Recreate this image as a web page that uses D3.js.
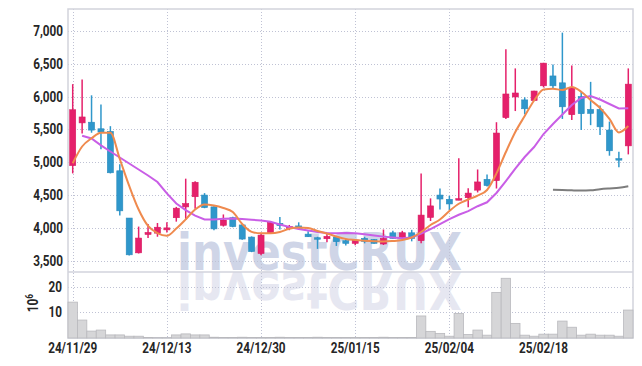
<!DOCTYPE html>
<html>
<head>
<meta charset="utf-8">
<script src="https://cdn.jsdelivr.net/npm/d3@7"></script>
<style>
  html, body { margin: 0; padding: 0; background: #fff; }
  svg { display: block; }
  .lbl { font-family: Roboto, "Liberation Sans", sans-serif; font-size: 14px; font-weight: bold; fill: #262626; }
</style>
</head>
<body>
<div id="chart"></div>
<script>
const dates = [
  "24/11/29", "24/12/02", "24/12/03", "24/12/04", "24/12/05", "24/12/06", "24/12/09", "24/12/10", "24/12/11", "24/12/12",
  "24/12/13", "24/12/16", "24/12/17", "24/12/18", "24/12/19", "24/12/20", "24/12/23", "24/12/24", "24/12/26", "24/12/27",
  "24/12/30", "25/01/02", "25/01/03", "25/01/06", "25/01/07", "25/01/08", "25/01/09", "25/01/10", "25/01/13", "25/01/14",
  "25/01/15", "25/01/16", "25/01/17", "25/01/20", "25/01/21", "25/01/22", "25/01/23", "25/01/24", "25/01/31", "25/02/03",
  "25/02/04", "25/02/05", "25/02/06", "25/02/07", "25/02/10", "25/02/11", "25/02/12", "25/02/13", "25/02/14", "25/02/17",
  "25/02/18", "25/02/19", "25/02/20", "25/02/21", "25/02/24", "25/02/25", "25/02/26", "25/02/27", "25/02/28", "25/03/04"
]
const opens = [
  4950, 5600, 5610, 5510, 5470, 4870, 4150, 3620, 3900, 3920,
  3970, 4155, 4320, 4475, 4500, 4320, 4040, 4155, 4045, 3860,
  3610, 3915, 4070, 3990, 4030, 3905, 3850, 3835, 3860, 3805,
  3765, 3840, 3825, 3755, 3925, 3855, 3925, 3805, 4160, 4500,
  4435, 4425, 4460, 4575, 4740, 4720, 5680, 5995, 5950, 5940,
  6165, 6315, 6210, 5725, 6000, 5805, 5805, 5490, 5055, 5250
]
const highs = [
  6190, 6260, 6020, 5880, 5550, 4970, 4150, 4020, 4060, 4075,
  4085, 4320, 4750, 4710, 4530, 4330, 4205, 4170, 4060, 3870,
  3925, 4090, 4165, 4045, 4085, 3950, 3865, 3915, 3870, 3830,
  3820, 3865, 3830, 3975, 3955, 3955, 3970, 4830, 4450, 4600,
  4490, 5060, 4605, 4890, 4815, 5610, 6720, 6430, 5990, 6090,
  6515, 6490, 6975, 6475, 6070, 6225, 5865, 5620, 5160, 6430
]
const lows = [
  4830, 5440, 5450, 5200, 4830, 4190, 3580, 3610, 3845, 3865,
  3930, 4095, 4120, 4290, 4300, 3965, 4020, 4010, 3820, 3630,
  3585, 3910, 3975, 3965, 3980, 3860, 3680, 3780, 3725, 3730,
  3735, 3765, 3760, 3740, 3835, 3840, 3795, 3765, 4105, 4280,
  4270, 4420, 4315, 4540, 4630, 4600, 5660, 5780, 5730, 5935,
  6140, 6115, 5660, 5645, 5490, 5565, 5415, 5100, 4925, 5120
]
const closes = [
  5800, 5690, 5490, 5460, 4840, 4260, 3590, 3845, 3930, 4010,
  4000, 4300, 4370, 4695, 4310, 3985, 4120, 4020, 3830, 3640,
  3890, 4085, 4035, 4020, 3990, 3865, 3835, 3870, 3790, 3765,
  3815, 3795, 3765, 3840, 3840, 3925, 3840, 4195, 4335, 4440,
  4365, 4445, 4530, 4700, 4645, 5445, 6040, 6055, 5815, 6085,
  6510, 6165, 5845, 6130, 5740, 5745, 5540, 5175, 5045, 6190
]
// volume in millions of shares
const volumes = [
  14.0, 7.0, 2.7, 3.1, 1.2, 1.2, 0.7, 0.7, 0.2, 0.15,
  0.15, 1.2, 1.6, 1.2, 1.2, 0.3, 0.2, 0.2, 0.3, 0.2,
  0.2, 0.2, 0.3, 0.2, 0.2, 0.2, 0.3, 0.2, 0.2, 0.2,
  0.2, 0.2, 0.2, 0.3, 0.2, 0.2, 0.2, 8.6, 2.6, 1.8,
  0.7, 9.6, 1.4, 3.1, 1.1, 17.8, 23.3, 5.7, 1.1, 0.7,
  1.5, 1.5, 6.6, 4.2, 1.1, 1.5, 1.1, 1.1, 0.7, 10.9
]
const maShort = [
  4985, 5240, 5365, 5450, 5450, 5050, 4640, 4280, 4030, 3920,
  3880, 3990, 4130, 4280, 4355, 4340, 4303, 4242, 4059, 3940,
  3917, 3917, 3937, 3987, 4005, 3998, 3952, 3914, 3868, 3830,
  3815, 3805, 3797, 3792, 3800, 3815, 3853, 3937, 4044, 4128,
  4257, 4368, 4432, 4493, 4577, 4830, 5156, 5461, 5705, 5941,
  6108, 6120, 6101, 6147, 6075, 5948, 5827, 5660, 5454, 5552
]
const maMid = [
  null, 5405, 5362, 5258, 5164, 5072, 4981, 4890, 4798, 4699,
  4527, 4371, 4272, 4188, 4128, 4128, 4138, 4143, 4135, 4125,
  4112, 4094, 4051, 4013, 3983, 3960, 3937, 3921, 3917, 3924,
  3917, 3902, 3883, 3867, 3853, 3842, 3853, 3914, 3983, 4059,
  4135, 4200, 4255, 4330, 4390, 4532, 4714, 4904, 5080, 5232,
  5430, 5582, 5727, 5872, 5979, 6009, 5956, 5888, 5819, 5822
]
const maLong = [
  null, null, null, null, null, null, null, null, null, null,
  null, null, null, null, null, null, null, null, null, null,
  null, null, null, null, null, null, null, null, null, null,
  null, null, null, null, null, null, null, null, null, null,
  null, null, null, null, null, null, null, null, null, null,
  null, 4580, 4578, 4572, 4568, 4572, 4590, 4602, 4612, 4635
]
const priceTicks = [3500, 4000, 4500, 5000, 5500, 6000, 6500, 7000]
const volumeTicks = [10, 20]
const dateTickIdx = [0, 10, 20, 30, 40, 50]

const W = 642, H = 366
const left = 68, right = 633
const priceTop = 9, priceBottom = 272, volBottom = 338
const squeeze = 0.84 // labels are set in a condensed face

const upColor = "#e5206b", downColor = "#2f97cb"

const svg = d3.select("#chart").append("svg")
  .attr("width", W)
  .attr("height", H)

const x = d3.scaleBand()
  .domain(d3.range(dates.length))
  .range([left, right])
  .paddingInner(0.36)
  .paddingOuter(0.18)
const cx = (i) => x(i) + x.bandwidth() / 2

const y = d3.scaleLinear().domain([3328, 7335]).range([priceBottom, priceTop])
const yv = d3.scaleLinear().domain([0, 25.75]).range([volBottom, priceBottom])

// watermark + reflection
const wm = svg.append("g")
  .style("font-family", "'DejaVu Sans', sans-serif")
  .style("font-weight", "bold")
  .style("font-size", "51px")
wm.append("text")
  .attr("x", 177).attr("y", 270)
  .attr("textLength", 285).attr("lengthAdjust", "spacingAndGlyphs")
  .attr("fill", "#cfd5e7")
  .text("investCRUX")
wm.append("text")
  .attr("transform", "translate(0,542) scale(1,-1)")
  .attr("x", 177).attr("y", 270)
  .attr("textLength", 285).attr("lengthAdjust", "spacingAndGlyphs")
  .attr("fill", "#e6e7f1")
  .text("investCRUX")

// grid
const grid = svg.append("g")
  .attr("stroke", "#bfc2d4")
  .attr("stroke-width", 1)
  .attr("stroke-dasharray", "1,2")
grid.selectAll(".hp")
  .data(priceTicks)
  .enter().append("line")
  .attr("x1", left).attr("x2", right)
  .attr("y1", (d) => Math.round(y(d)) + 0.5)
  .attr("y2", (d) => Math.round(y(d)) + 0.5)
grid.selectAll(".hv")
  .data(volumeTicks)
  .enter().append("line")
  .attr("x1", left).attr("x2", right)
  .attr("y1", (d) => Math.round(yv(d)) + 0.5)
  .attr("y2", (d) => Math.round(yv(d)) + 0.5)
grid.selectAll(".vx")
  .data(dateTickIdx)
  .enter().append("line")
  .attr("x1", (d) => Math.round(cx(d)) + 0.5)
  .attr("x2", (d) => Math.round(cx(d)) + 0.5)
  .attr("y1", priceTop).attr("y2", volBottom)

// frame
const frame = svg.append("g").attr("stroke", "#d2d3dc").attr("stroke-width", 1.5).attr("fill", "none")
frame.append("rect")
  .attr("x", left).attr("y", priceTop)
  .attr("width", right - left).attr("height", volBottom - priceTop)
frame.append("line")
  .attr("x1", left).attr("x2", right)
  .attr("y1", priceBottom).attr("y2", priceBottom)

// volume bars
const step = x.step()
svg.append("g")
  .selectAll("rect")
  .data(volumes)
  .enter().append("rect")
  .attr("x", (d, i) => cx(i) - step / 2)
  .attr("width", step)
  .attr("y", (d) => yv(d))
  .attr("height", (d) => volBottom - yv(d))
  .attr("fill", "#d6d6d8")
  .attr("stroke", "#b9b9bd")
  .attr("stroke-width", 0.8)

// candles
const candles = svg.append("g")
  .selectAll("g")
  .data(dates.map((d, i) => i))
  .enter().append("g")
candles.append("line")
  .attr("x1", (i) => cx(i)).attr("x2", (i) => cx(i))
  .attr("y1", (i) => y(highs[i])).attr("y2", (i) => y(lows[i]))
  .attr("stroke", (i) => closes[i] >= opens[i] ? upColor : downColor)
  .attr("stroke-width", 1.5)
candles.append("rect")
  .attr("x", (i) => x(i))
  .attr("width", x.bandwidth())
  .attr("y", (i) => y(Math.max(opens[i], closes[i])))
  .attr("height", (i) => Math.max(1.5, Math.abs(y(opens[i]) - y(closes[i]))))
  .attr("fill", (i) => closes[i] >= opens[i] ? upColor : downColor)
  .attr("stroke", (i) => closes[i] >= opens[i] ? "#d81b60" : "#2a8bbd")
  .attr("stroke-width", 0.6)

// moving averages
const maLine = (curve) => d3.line()
  .defined((d) => d != null)
  .x((d, i) => cx(i))
  .y((d) => y(d))
  .curve(curve)

svg.append("path")
  .datum(maLong)
  .attr("fill", "none")
  .attr("stroke", "#7d7d7d")
  .attr("stroke-width", 2)
  .attr("d", maLine(d3.curveMonotoneX))
svg.append("path")
  .datum(maMid)
  .attr("fill", "none")
  .attr("stroke", "#c95ee6")
  .attr("stroke-width", 2)
  .attr("d", maLine(d3.curveLinear))
svg.append("path")
  .datum(maShort)
  .attr("fill", "none")
  .attr("stroke", "#ef8a4e")
  .attr("stroke-width", 2)
  .attr("d", maLine(d3.curveMonotoneX))

// axes
svg.append("g")
  .attr("class", "yaxis")
  .attr("transform", `translate(${left},0)`)
  .call(d3.axisLeft(y).tickValues(priceTicks).tickFormat(d3.format(",")).tickSize(0).tickPadding(5))
svg.append("g")
  .attr("class", "yaxis")
  .attr("transform", `translate(${left},0)`)
  .call(d3.axisLeft(yv).tickValues(volumeTicks).tickSize(0).tickPadding(6))
svg.append("g")
  .attr("class", "xaxis")
  .attr("transform", `translate(0,${volBottom})`)
  .call(d3.axisBottom(x).tickValues(dateTickIdx).tickFormat((i) => dates[i]).tickSize(0).tickPadding(5))

svg.selectAll(".domain").remove()
svg.selectAll(".tick text")
  .attr("class", "lbl")
  .attr("font-family", null).attr("font-size", null).attr("fill", null)
svg.selectAll(".yaxis .tick text")
  .attr("x", function() { return +d3.select(this).attr("x") / squeeze })
  .attr("transform", `scale(${squeeze},1)`)
svg.selectAll(".xaxis .tick text")
  .attr("transform", `scale(${squeeze},1)`)

const unit = svg.append("text")
  .attr("class", "lbl")
  .attr("transform", `translate(38,303) rotate(-90) scale(${squeeze},1)`)
  .attr("text-anchor", "middle")
unit.append("tspan").text("10")
unit.append("tspan").attr("baseline-shift", "super").style("font-size", "10px").text("6")
</script>
</body>
</html>
